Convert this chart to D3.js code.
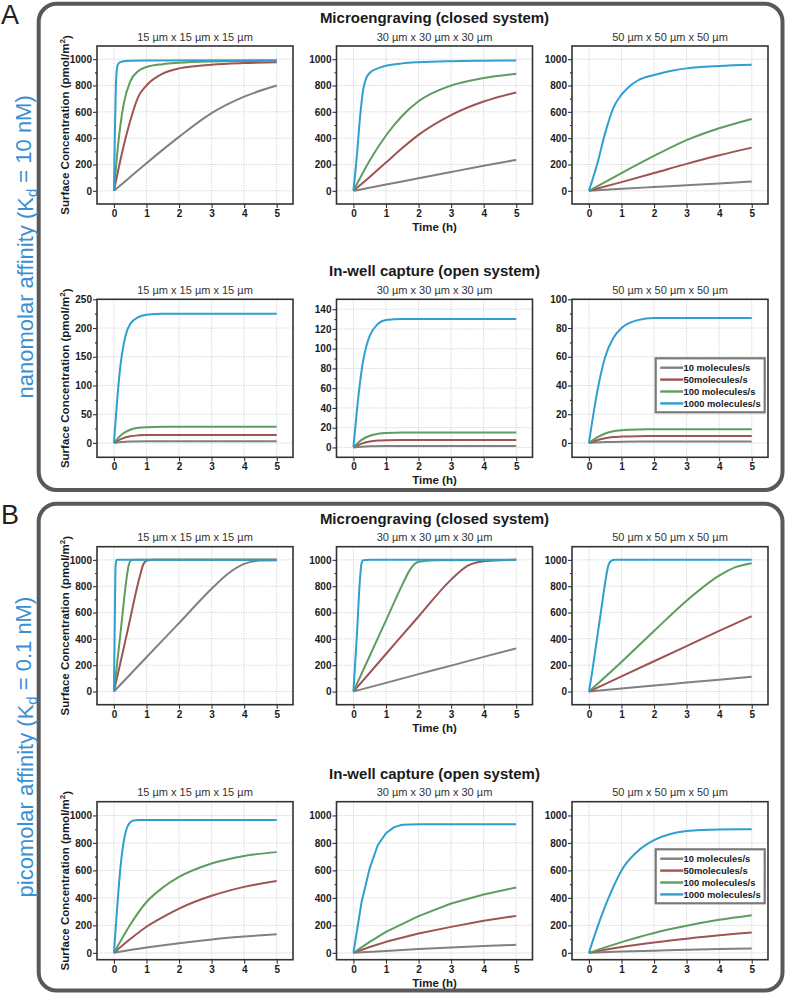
<!DOCTYPE html>
<html><head><meta charset="utf-8">
<script src="https://cdn.jsdelivr.net/npm/d3@7"></script>
<style>body{margin:0;background:#fff}svg{display:block;font-family:"Liberation Sans",Arial,sans-serif}</style>
</head><body><svg id="c" width="791" height="994"></svg>
<script>
// ---------------- DATA ----------------
const rateLabels = ["10 molecules/s", "50molecules/s", "100 molecules/s", "1000 molecules/s"];
const sizeLabels = ["15 µm x 15 µm x 15 µm", "30 µm x 30 µm x 30 µm", "50 µm x 50 µm x 50 µm"];
const systemTitles = ["Microengraving (closed system)", "In-well capture (open system)"];
const groupLetters = ["A", "B"];
const affinityMain = ["nanomolar affinity (K", "picomolar affinity (K"];
const affinityTail = [" = 10 nM)", " = 0.1 nM)"];
const xTicks = [0, 1, 2, 3, 4, 5];
const yAxisTitle = "Surface Concentration (pmol/m";
const xAxisTitle = "Time (h)";

// Nanomolar affinity, closed system (microengraving)
const nM_closed_15_r10 = [[0,0],[0.5,105],[1,210],[2,410],[3,590],[4,715],[5,800]];
const nM_closed_15_r50 = [[0,0],[0.25,290],[0.5,530],[0.75,715],[1,800],[1.5,890],[2,930],[3,958],[4,970],[5,976]];
const nM_closed_15_r100 = [[0,0],[0.1,280],[0.2,500],[0.3,660],[0.5,830],[0.75,910],[1,940],[1.5,962],[2,972],[3,982],[4,986],[5,988]];
const nM_closed_15_r1000 = [[0,0],[0.03,450],[0.06,800],[0.1,940],[0.15,970],[0.25,982],[0.5,988],[1,990],[5,992]];
const nM_closed_30_r10 = [[0,0],[1,48],[2,95],[3,143],[4,190],[5,235]];
const nM_closed_30_r50 = [[0,0],[0.5,105],[1,215],[1.5,325],[2,425],[3,575],[4,678],[5,747]];
const nM_closed_30_r100 = [[0,0],[0.5,230],[1,420],[1.5,570],[2,680],[3,800],[4,857],[5,889]];
const nM_closed_30_r1000 = [[0,0],[0.1,250],[0.2,550],[0.3,770],[0.4,860],[0.5,895],[0.75,930],[1,950],[1.5,968],[2,977],[3,985],[4,988],[5,990]];
const nM_closed_50_r10 = [[0,0],[1,15],[2,29],[3,43],[4,56],[5,70]];
const nM_closed_50_r50 = [[0,0],[1,66],[2,135],[3,205],[4,270],[5,328]];
const nM_closed_50_r100 = [[0,0],[1,135],[2,265],[3,385],[4,475],[5,546]];
const nM_closed_50_r1000 = [[0,0],[0.25,200],[0.5,440],[0.75,630],[1,730],[1.25,795],[1.5,838],[2,880],[2.5,910],[3,930],[4,948],[5,957]];

// Nanomolar affinity, open system (in-well capture)
const nM_open_15_r10 = [[0,0],[0.25,1.7],[0.5,2.5],[1,2.9],[1.5,3],[5,3]];
const nM_open_15_r50 = [[0,0],[0.25,7.5],[0.5,11.5],[0.75,13.2],[1,13.8],[1.5,14],[5,14]];
const nM_open_15_r100 = [[0,0],[0.25,15],[0.5,23],[0.75,26.5],[1,27.5],[1.5,28],[5,28]];
const nM_open_15_r1000 = [[0,0],[0.1,75],[0.2,135],[0.3,172],[0.4,195],[0.5,207],[0.75,219],[1,223],[1.5,225],[5,225]];
const nM_open_30_r10 = [[0,0],[0.25,0.8],[0.5,1.2],[1,1.5],[1.5,1.5],[5,1.5]];
const nM_open_30_r50 = [[0,0],[0.25,3.8],[0.5,5.9],[0.75,6.9],[1,7.3],[1.5,7.5],[5,7.5]];
const nM_open_30_r100 = [[0,0],[0.25,7.6],[0.5,11.8],[0.75,13.8],[1,14.6],[1.5,15],[5,15]];
const nM_open_30_r1000 = [[0,0],[0.1,35],[0.2,65],[0.3,88],[0.4,103],[0.5,113],[0.75,125],[1,129],[1.5,130],[5,130]];
const nM_open_50_r10 = [[0,0],[0.5,0.6],[1,0.9],[1.5,1],[5,1]];
const nM_open_50_r50 = [[0,0],[0.25,1.9],[0.5,3.3],[0.75,4.1],[1,4.4],[1.5,4.7],[2,4.8],[5,4.8]];
const nM_open_50_r100 = [[0,0],[0.25,3.8],[0.5,6.6],[0.75,8.2],[1,8.9],[1.5,9.4],[2,9.5],[5,9.5]];
const nM_open_50_r1000 = [[0,0],[0.25,35],[0.5,60],[0.75,73],[1,80],[1.5,85.5],[2,87],[5,87]];

// Picomolar affinity, closed system (microengraving)
const pM_closed_15_r10 = [[0,0],[1,260],[2,520],[3,780],[3.5,895],[4,970],[4.5,995],[5,998]];
const pM_closed_15_r50 = [[0,0],[0.4,440],[0.8,880],[0.9,965],[1,993],[1.2,1000],[5,1000]];
const pM_closed_15_r100 = [[0,0],[0.2,440],[0.4,880],[0.45,955],[0.5,990],[0.6,1000],[5,1000]];
const pM_closed_15_r1000 = [[0,0],[0.03,600],[0.05,950],[0.08,1000],[5,1000]];
const pM_closed_30_r10 = [[0,0],[1,66],[2,132],[3,197],[4,263],[5,328]];
const pM_closed_30_r50 = [[0,0],[1,285],[2,570],[3,850],[3.5,955],[4,990],[4.5,998],[5,1000]];
const pM_closed_30_r100 = [[0,0],[1,540],[1.5,810],[1.75,930],[2,985],[2.5,998],[5,1000]];
const pM_closed_30_r1000 = [[0,0],[0.1,400],[0.2,850],[0.25,975],[0.3,998],[0.5,1000],[5,1000]];
const pM_closed_50_r10 = [[0,0],[1,23],[2,45],[3,68],[4,90],[5,113]];
const pM_closed_50_r50 = [[0,0],[1,115],[2,230],[3,345],[4,460],[5,572]];
const pM_closed_50_r100 = [[0,0],[1,225],[2,460],[3,690],[4,880],[4.5,945],[5,975]];
const pM_closed_50_r1000 = [[0,0],[0.1,150],[0.2,320],[0.3,490],[0.4,660],[0.5,830],[0.6,960],[0.7,995],[0.8,1000],[5,1000]];

// Picomolar affinity, open system (in-well capture)
const pM_open_15_r10 = [[0,0],[1,38],[2,70],[3,97],[4,118],[5,136]];
const pM_open_15_r50 = [[0,0],[0.5,100],[1,190],[1.5,260],[2,322],[3,415],[4,480],[5,523]];
const pM_open_15_r100 = [[0,0],[0.5,205],[1,370],[1.5,475],[2,552],[3,650],[4,705],[5,733]];
const pM_open_15_r1000 = [[0,0],[0.1,330],[0.2,620],[0.3,810],[0.4,910],[0.5,950],[0.6,963],[0.75,966],[5,966]];
const pM_open_30_r10 = [[0,0],[1,14],[2,27],[3,39],[4,49],[5,58]];
const pM_open_30_r50 = [[0,0],[0.5,42],[1,80],[2,141],[3,189],[4,233],[5,269]];
const pM_open_30_r100 = [[0,0],[0.5,80],[1,153],[2,267],[3,359],[4,425],[5,476]];
const pM_open_30_r1000 = [[0,0],[0.25,370],[0.5,615],[0.75,785],[1,870],[1.25,915],[1.5,932],[2,935],[3,935],[4,935],[5,935]];
const pM_open_50_r10 = [[0,0],[1,9],[2,16],[3,22],[4,27],[5,32]];
const pM_open_50_r50 = [[0,0],[1,42],[2,75],[3,103],[4,128],[5,148]];
const pM_open_50_r100 = [[0,0],[1,78],[2,145],[3,197],[4,240],[5,274]];
const pM_open_50_r1000 = [[0,0],[0.25,180],[0.5,340],[0.75,480],[1,600],[1.5,740],[2,820],[2.5,865],[3,886],[4,898],[5,900]];

// Y axis tick values per panel type
const yTicks1000 = [0, 200, 400, 600, 800, 1000];
const yMinor1000 = [100, 300, 500, 700, 900];
const yTicks250 = [0, 50, 100, 150, 200, 250];
const yMinor250 = [25, 75, 125, 175, 225];
const yTicks140 = [0, 20, 40, 60, 80, 100, 120, 140];
const yMinor140 = [10, 30, 50, 70, 90, 110, 130];
const yTicks100 = [0, 20, 40, 60, 80, 100];
const yMinor100 = [10, 30, 50, 70, 90];

// ---------------- LAYOUT / STYLE ----------------
const colors = ["#808080", "#a05353", "#5f9c5f", "#2f9fd0"];
const labelBlue = "#3b8fd3";
const colX = [97, 336.5, 572];
const PW = 196, PH = 158;
const groups = [
  {letter: 0, frame: [38.7, 3.7, 782.5, 490], rows: [
    {top: 46, panels: [
      {series: [nM_closed_15_r10, nM_closed_15_r50, nM_closed_15_r100, nM_closed_15_r1000], yd: [-100, 1100], yt: yTicks1000, ym: yMinor1000},
      {series: [nM_closed_30_r10, nM_closed_30_r50, nM_closed_30_r100, nM_closed_30_r1000], yd: [-100, 1100], yt: yTicks1000, ym: yMinor1000},
      {series: [nM_closed_50_r10, nM_closed_50_r50, nM_closed_50_r100, nM_closed_50_r1000], yd: [-100, 1100], yt: yTicks1000, ym: yMinor1000}]},
    {top: 299.3, panels: [
      {series: [nM_open_15_r10, nM_open_15_r50, nM_open_15_r100, nM_open_15_r1000], yd: [-25, 250], yt: yTicks250, ym: yMinor250},
      {series: [nM_open_30_r10, nM_open_30_r50, nM_open_30_r100, nM_open_30_r1000], yd: [-10, 150], yt: yTicks140, ym: yMinor140},
      {series: [nM_open_50_r10, nM_open_50_r50, nM_open_50_r100, nM_open_50_r1000], yd: [-10, 100], yt: yTicks100, ym: yMinor100, legendDy: 59}]}
  ]},
  {letter: 1, frame: [38.7, 503.7, 782.5, 990.5], rows: [
    {top: 546.7, panels: [
      {series: [pM_closed_15_r10, pM_closed_15_r50, pM_closed_15_r100, pM_closed_15_r1000], yd: [-100, 1100], yt: yTicks1000, ym: yMinor1000},
      {series: [pM_closed_30_r10, pM_closed_30_r50, pM_closed_30_r100, pM_closed_30_r1000], yd: [-100, 1100], yt: yTicks1000, ym: yMinor1000},
      {series: [pM_closed_50_r10, pM_closed_50_r50, pM_closed_50_r100, pM_closed_50_r1000], yd: [-100, 1100], yt: yTicks1000, ym: yMinor1000}]},
    {top: 801.7, panels: [
      {series: [pM_open_15_r10, pM_open_15_r50, pM_open_15_r100, pM_open_15_r1000], yd: [-50, 1100], yt: yTicks1000, ym: yMinor1000},
      {series: [pM_open_30_r10, pM_open_30_r50, pM_open_30_r100, pM_open_30_r1000], yd: [-50, 1100], yt: yTicks1000, ym: yMinor1000, linear: true},
      {series: [pM_open_50_r10, pM_open_50_r50, pM_open_50_r100, pM_open_50_r1000], yd: [-50, 1100], yt: yTicks1000, ym: yMinor1000, legendDy: 47.6}]}
  ]}
];

const svg = d3.select("#c");
const fmt = d3.format("d");

function drawPanel(p, x0, y0, showY, showX) {
  const g = svg.append("g");
  const xs = d3.scaleLinear().domain([-0.52, 5.5]).range([x0, x0 + PW]);
  const ys = d3.scaleLinear().domain(p.yd).range([y0 + PH, y0]);
  g.append("g").selectAll("line").data(xTicks).join("line")
    .attr("x1", d => xs(d)).attr("x2", d => xs(d)).attr("y1", y0).attr("y2", y0 + PH)
    .attr("stroke", "#c8c8c8").attr("stroke-width", 0.8).attr("stroke-dasharray", "1.2,1.2");
  g.append("g").selectAll("line").data(p.yt).join("line")
    .attr("x1", x0).attr("x2", x0 + PW).attr("y1", d => ys(d)).attr("y2", d => ys(d))
    .attr("stroke", "#c8c8c8").attr("stroke-width", 0.8).attr("stroke-dasharray", "1.2,1.2");
  const line = d3.line().x(d => xs(d[0])).y(d => ys(d[1]))
    .curve(p.linear ? d3.curveLinear : d3.curveMonotoneX);
  p.series.forEach((s, i) => {
    g.append("path").attr("d", line(s)).attr("fill", "none")
      .attr("stroke", colors[i]).attr("stroke-width", 2).attr("stroke-linejoin", "round");
  });
  const ya = g.append("g").attr("transform", `translate(${x0},0)`)
    .call(d3.axisLeft(ys).tickValues(p.yt).tickSize(4).tickPadding(1).tickFormat(fmt));
  const ym = g.append("g").attr("transform", `translate(${x0},0)`)
    .call(d3.axisLeft(ys).tickValues(p.ym).tickSize(2).tickFormat(""));
  const xa = g.append("g").attr("transform", `translate(0,${y0 + PH})`)
    .call(d3.axisBottom(xs).tickValues(xTicks).tickSize(4).tickPadding(2).tickFormat(fmt));
  [ya, ym, xa].forEach(a => {
    a.select(".domain").remove();
    a.selectAll("line").attr("stroke", "#333").attr("stroke-width", 1.1);
    a.selectAll("text").attr("font-family", "Liberation Sans, Arial, sans-serif")
      .attr("font-size", 10).attr("font-weight", "bold").attr("fill", "#1a1a1a");
  });
  g.append("rect").attr("x", x0).attr("y", y0).attr("width", PW).attr("height", PH)
    .attr("fill", "none").attr("stroke", "#333").attr("stroke-width", 1.6);
  if (showY) {
    const t = g.append("text").attr("transform", `translate(${x0 - 28},${y0 + PH / 2}) rotate(-90)`)
      .attr("text-anchor", "middle").attr("font-size", 11.5).attr("font-weight", "bold").attr("fill", "#1a1a1a");
    t.append("tspan").text(yAxisTitle);
    t.append("tspan").attr("dy", "-0.45em").attr("font-size", "0.7em").text("2");
    t.append("tspan").attr("dy", "0.45em").text(")");
  }
  if (showX) {
    g.append("text").attr("x", x0 + PW / 2).attr("y", y0 + PH + 27)
      .attr("text-anchor", "middle").attr("font-size", 11.5).attr("font-weight", "bold")
      .attr("fill", "#1a1a1a").text(xAxisTitle);
  }
  if (p.legendDy !== undefined) {
    const lx = x0 + 83.7, ly = y0 + p.legendDy;
    const lg = g.append("g");
    lg.append("rect").attr("x", lx).attr("y", ly).attr("width", 109).attr("height", 54)
      .attr("fill", "#fff").attr("stroke", "#7a7a7a").attr("stroke-width", 2.2);
    rateLabels.forEach((lab, i) => {
      const cy = ly + 9.4 + i * 11.9;
      lg.append("line").attr("x1", lx + 4.5).attr("x2", lx + 27.5).attr("y1", cy).attr("y2", cy)
        .attr("stroke", colors[i]).attr("stroke-width", 2.4);
      lg.append("text").attr("x", lx + 27.8).attr("y", cy + 3.4).attr("font-size", 9.4)
        .attr("font-weight", "bold").attr("fill", "#1a1a1a").text(lab);
    });
  }
}

groups.forEach((G, gi) => {
  const [fx0, fy0, fx1, fy1] = G.frame;
  svg.append("rect").attr("x", fx0).attr("y", fy0).attr("width", fx1 - fx0).attr("height", fy1 - fy0)
    .attr("rx", 18).attr("ry", 18).attr("fill", "none").attr("stroke", "#595959").attr("stroke-width", 4);
  svg.append("text").attr("x", 1).attr("y", fy0 + 20).attr("font-size", 27)
    .attr("fill", "#222").text(groupLetters[G.letter]);
  const cy = (fy0 + fy1) / 2;
  const lab = svg.append("text").attr("transform", `translate(33,${cy}) rotate(-90)`)
    .attr("text-anchor", "middle").attr("font-size", 22).attr("fill", labelBlue);
  lab.append("tspan").text(affinityMain[G.letter]);
  lab.append("tspan").attr("dy", "0.25em").attr("font-size", "0.68em").text("d");
  lab.append("tspan").attr("dy", "-0.25em").text(affinityTail[G.letter]);
  G.rows.forEach((R, ri) => {
    svg.append("text").attr("x", colX[1] + PW / 2).attr("y", R.top - 23)
      .attr("text-anchor", "middle").attr("font-size", 15).attr("font-weight", "bold")
      .attr("fill", "#1a1a1a").text(systemTitles[ri]);
    R.panels.forEach((p, ci) => {
      svg.append("text").attr("x", colX[ci] + PW / 2).attr("y", R.top - 5.5)
        .attr("text-anchor", "middle").attr("font-size", 11).attr("fill", "#333").text(sizeLabels[ci]);
      drawPanel(p, colX[ci], R.top, ci === 0, ci === 1);
    });
  });
});
</script></body></html>
